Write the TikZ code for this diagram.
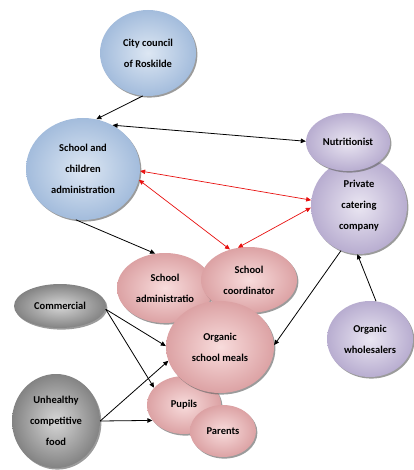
\documentclass[tikz,border=0pt]{standalone}
\usepackage{fontspec}
\setmainfont{Carlito}
\usetikzlibrary{shapes.geometric,shadows,arrows.meta}
\definecolor{bluein}{HTML}{DDE7F3}
\definecolor{blueout}{HTML}{A3BCDC}
\definecolor{purin}{HTML}{EAE6F2}
\definecolor{purout}{HTML}{B8ADD0}
\definecolor{pinkin}{HTML}{F8DCDC}
\definecolor{pinkout}{HTML}{DCA2A4}
\definecolor{grayin}{HTML}{D6D6D6}
\definecolor{grayout}{HTML}{838383}
\definecolor{redline}{HTML}{E8100F}
\tikzset{
  blob/.style={ellipse, inner sep=0pt, align=center,
    font=\bfseries\fontsize{10.5}{21}\selectfont,
    drop shadow={shadow xshift=1.4pt, shadow yshift=-1.6pt, fill=black!60, opacity=0.65}},
  blueblob/.style={blob, shading=radial, inner color=bluein, outer color=blueout},
  purblob/.style={blob, shading=radial, inner color=purin, outer color=purout},
  pinkblob/.style={blob, shading=radial, inner color=pinkin, outer color=pinkout},
  grayblob/.style={blob, shading=radial, inner color=grayin, outer color=grayout},
  conn/.style={line width=0.8pt, black, -{Triangle[length=5pt,width=4.5pt]}},
  conn2/.style={line width=0.8pt, black, {Triangle[length=5pt,width=4.5pt]}-{Triangle[length=5pt,width=4.5pt]}},
  redconn/.style={line width=0.7pt, redline, {Triangle[length=5pt,width=4.5pt]}-{Triangle[length=5pt,width=4.5pt]}},
}
\begin{document}
\begin{tikzpicture}[x=1pt,y=-1pt]
\useasboundingbox (0,0) rectangle (413,470);
\node[blueblob, minimum width=96pt, minimum height=86pt] (city) at (148,53) {City council\\of Roskilde};
\node[blueblob, minimum width=114pt, minimum height=102pt] (admin) at (83,169) {School and\\children\\administration};
\node[purblob, minimum width=96pt, minimum height=96pt] (cater) at (359,206) {Private\\catering\\company};
\node[purblob, minimum width=84pt, minimum height=58pt] (nutri) at (348,142) {Nutritionist};
\node[pinkblob, minimum width=96pt, minimum height=70pt] (sadm) at (165,288) {School\\administratio};
\node[pinkblob, minimum width=96pt, minimum height=66pt] (scoord) at (249,280) {School\\coordinator};
\node[pinkblob, minimum width=74pt, minimum height=58pt] (pupils) at (184,405) {Pupils};
\node[pinkblob, minimum width=66pt, minimum height=52pt] (parents) at (223,431) {Parents};
\node[pinkblob, minimum width=108pt, minimum height=92pt] (meals) at (220,347) {Organic\\school meals};
\node[grayblob, minimum width=92pt, minimum height=44pt] (comm) at (60,306) {Commercial};
\node[grayblob, minimum width=88pt, minimum height=94pt] (unh) at (56,421) {Unhealthy\\competitive\\food};
\node[purblob, minimum width=86pt, minimum height=76pt] (whole) at (370,339) {Organic\\wholesalers};

\draw[conn] (city.263) -- (admin.75);
\draw[conn2] (admin.56) -- (nutri.179);
\draw[redconn] (admin.-2) -- (cater.173);
\draw[redconn] (admin.-11) -- (scoord.122);
\draw[redconn] (cater.182) -- (scoord.109);
\draw[conn] (admin.262) -- (sadm.106);
\draw[conn] (cater.248) -- (meals.2);
\draw[conn] (whole.81) -- (cater.268);
\draw[conn] (comm.-4) -- (meals.179);
\draw[conn] (comm.-4) -- (pupils.150);
\draw[conn] (unh.0) -- (meals.195);
\draw[conn] (unh.0) -- (pupils.206);
\end{tikzpicture}
\end{document}
